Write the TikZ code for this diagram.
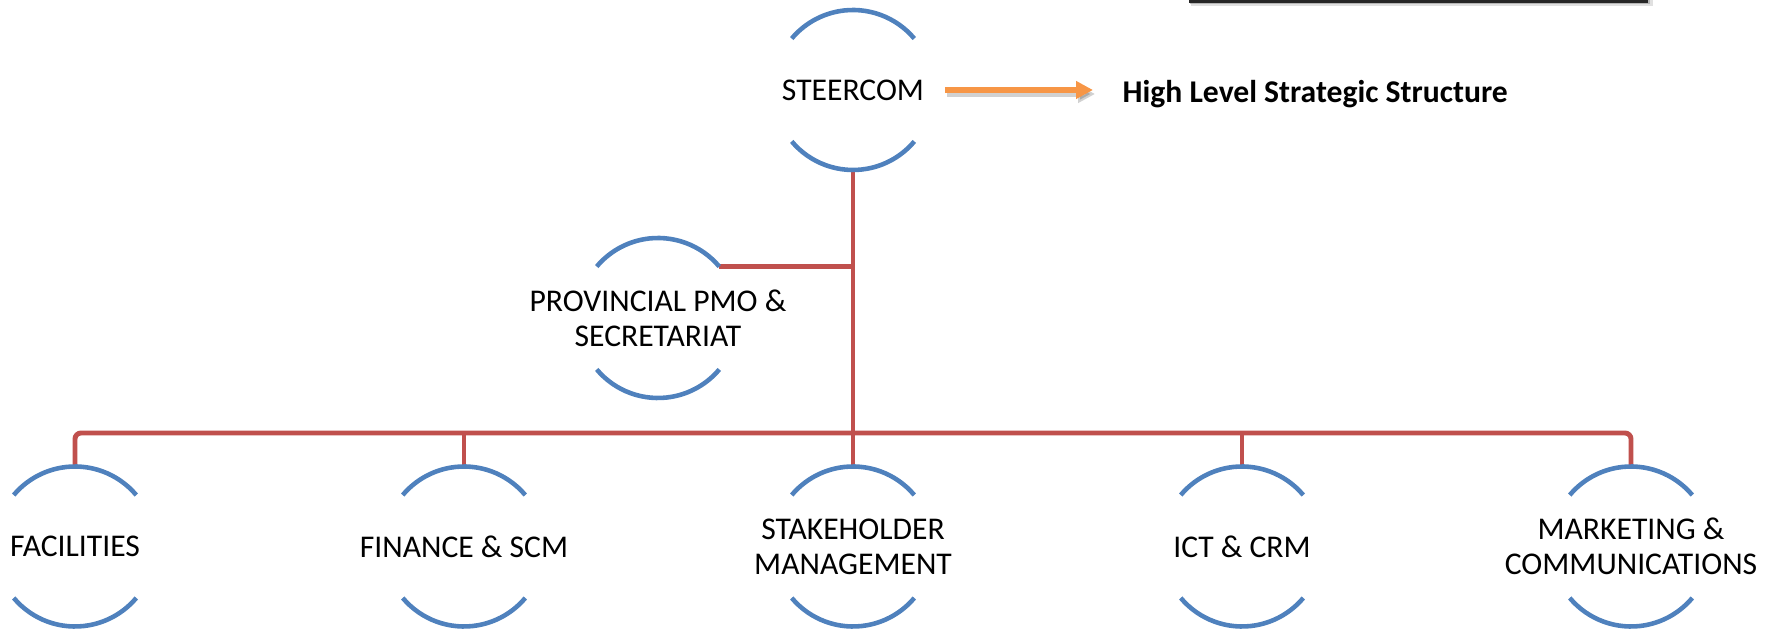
\documentclass[tikz,border=0pt]{standalone}
\usepackage{fontspec}
\setmainfont{Carlito}
\usetikzlibrary{positioning,arrows.meta}
\definecolor{ringblue}{RGB}{79,129,189}
\definecolor{linkred}{RGB}{192,80,77}
\definecolor{flowamber}{RGB}{247,150,70}
\tikzset{%
  unit/.style={
    align=center,
    inner sep=2mm,
    font=\fontsize{9}{9.9}\selectfont
  },
  ring/.style={
    draw=ringblue,
    line width=1.3pt
  },
  link/.style={
    draw=linkred,
    line width=1.4pt,
    rounded corners=0.6mm
  },
}

\begin{document}
\begin{tikzpicture}[on grid,node distance=3.89cm,>={Triangle[length=1.7mm,width=1.7mm]}]
        \useasboundingbox (0,0) rectangle (17.73,-6.3);
        \tikzstyle{flow}=[draw=flowamber,line width=1.5pt,->,shorten >=2.9mm]

        % bottom edge of the title box, cut off by the page
        \fill[black!20,opacity=0.6] (11.91,0) rectangle (16.53,-0.065);
        \fill[black!40,opacity=0.6] (11.90,0) rectangle (16.50,-0.045);
        \fill[black!85] (11.89,0) rectangle (16.48,-0.028);

        \node[unit] (steer) at (8.53,-0.90) {STEERCOM};
        \node[unit,below left=2.28cm and 1.95cm of steer] (pmo) {PROVINCIAL PMO \&\\SECRETARIAT};
        \node[unit,below=4.565cm of steer] (stake) {STAKEHOLDER\\MANAGEMENT};
        \node[unit,left=of stake] (fin) {FINANCE \& SCM};
        \node[unit,left=of fin] (fac) {FACILITIES};
        \node[unit,right=of stake] (ict) {ICT \& CRM};
        \node[unit,right=of ict] (mkt) {MARKETING \&\\COMMUNICATIONS};

        \node[anchor=base west,inner sep=0,font=\fontsize{9}{9.9}\selectfont\bfseries] (hl) at (11.22,-1.03) {High Level Strategic Structure};

        % arrow to the heading, with its soft shadow
        \draw[flow,draw=black,opacity=0.18,transform canvas={shift={(0.2mm,-0.4mm)}}] (steer.east) -- (steer.east -| hl.west);
        \draw[flow] (steer.east) -- (steer.east -| hl.west);

        % tree lines
        \coordinate (bus) at (8.53,-4.33);
        \coordinate (pmo-r) at ([shift={(40:8mm)}]pmo.center);
        \draw[link] ([yshift=-8mm]steer.center) -- ([yshift=8mm]stake.center);
        \draw[link] (pmo-r) -- (pmo-r -| steer.center);
        \draw[link] ([yshift=8mm]fac.center) |- (bus) -| ([yshift=8mm]mkt.center);
        \draw[link] ([yshift=8mm]fin.center) -- (fin.center |- bus);
        \draw[link] ([yshift=8mm]ict.center) -- (ict.center |- bus);

        % open rings round each unit
        \foreach \n in {steer,pmo,fac,fin,stake,ict,mkt}{
            \draw[ring] ([shift={(40:8mm)}]\n.center) arc[start angle=40,end angle=140,radius=8mm];
            \draw[ring] ([shift={(220:8mm)}]\n.center) arc[start angle=220,end angle=320,radius=8mm];
        }
\end{tikzpicture}
\end{document}
